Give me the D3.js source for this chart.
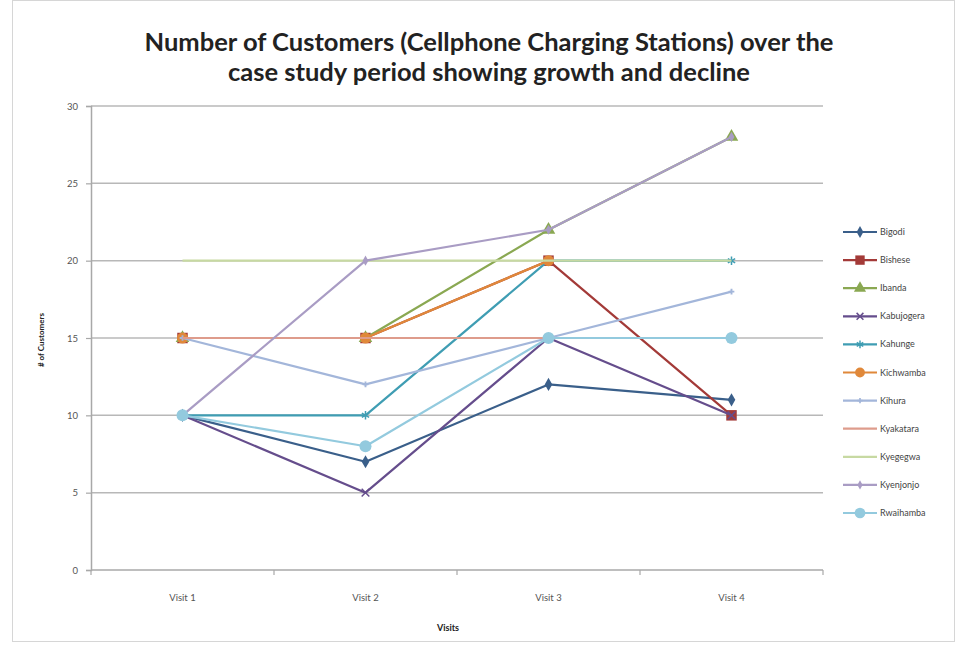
<!DOCTYPE html>
<html>
<head>
<meta charset="utf-8">
<script src="https://cdn.jsdelivr.net/npm/d3@7"></script>
<style>
  html, body { margin: 0; padding: 0; background: #fff; }
  svg { display: block; font-family: Lato, "Open Sans", sans-serif; }
</style>
</head>
<body>
<svg id="chart" width="956" height="649"></svg>
<script>
// Visits along the x axis
const visits = ["Visit 1", "Visit 2", "Visit 3", "Visit 4"];

// Customer counts per charging station, one value per visit (null = no reading)
const bigodi     = [10, 7, 12, 11];
const bishese    = [15, 15, 20, 10];
const ibanda     = [15, 15, 22, 28];
const kabujogera = [10, 5, 15, 10];
const kahunge    = [10, 10, 20, 20];
const kichwamba  = [15, 15, 20, null];
const kihura     = [15, 12, 15, 18];
const kyakatara  = [15, 15, 15, 15];
const kyegegwa   = [20, 20, 20, 20];
const kyenjonjo  = [10, 20, 22, 28];
const rwaihamba  = [10, 8, 15, 15];

const stationNames = ["Bigodi", "Bishese", "Ibanda", "Kabujogera", "Kahunge", "Kichwamba",
                      "Kihura", "Kyakatara", "Kyegegwa", "Kyenjonjo", "Rwaihamba"];
const stationValues = [bigodi, bishese, ibanda, kabujogera, kahunge, kichwamba,
                       kihura, kyakatara, kyegegwa, kyenjonjo, rwaihamba];

const yTicks = [0, 5, 10, 15, 20, 25, 30];

// Line colour and marker style per station
const colors = ["#3a5f8a", "#a33a38", "#8aa852", "#654d8c", "#3f9db3", "#e0883a",
                "#a3b6da", "#de9c8c", "#c7d9a2", "#a99cc4", "#93cade"];
const markers = ["diamond", "square", "triangle", "cross", "star", "circle",
                 "plus", "none", "none", "diamondSmall", "bigCircle"];

const series = stationNames.map((name, i) => ({
  name, color: colors[i], marker: markers[i],
  values: stationValues[i].map((v, j) => ({ visit: visits[j], value: v }))
}));

const svg = d3.select("#chart");

// Outer frame
svg.append("rect")
  .attr("x", 12.5).attr("y", 0.5).attr("width", 942).attr("height", 641)
  .attr("fill", "none").attr("stroke", "#d6d6d6");

const plot = { left: 91, right: 823, top: 106, bottom: 570 };

const xBand = d3.scaleBand().domain(visits).range([plot.left, plot.right]);
const xPos = v => xBand(v) + xBand.bandwidth() / 2;
const y = d3.scaleLinear().domain([0, 30]).range([plot.bottom, plot.top]);

// Horizontal gridlines
svg.append("g").selectAll("line")
  .data(yTicks.filter(t => t > 0))
  .join("line")
  .attr("x1", plot.left).attr("x2", plot.right)
  .attr("y1", d => y(d)).attr("y2", d => y(d))
  .attr("stroke", "#b8b8b8").attr("stroke-width", 1.5);

// Y axis
const yAxis = svg.append("g")
  .attr("transform", `translate(${plot.left},0)`)
  .call(d3.axisLeft(y).tickValues(yTicks).tickSize(5).tickPadding(8));
yAxis.select(".domain").attr("stroke", "#a8a8a8").attr("stroke-width", 1.5);
yAxis.selectAll(".tick line").attr("stroke", "#a8a8a8").attr("stroke-width", 1.2);
yAxis.selectAll(".tick text").attr("font-size", 9.5).attr("fill", "#555")
  .attr("font-family", "Lato, sans-serif");

// X axis: ticks sit on the category boundaries
const xAxisG = svg.append("g").attr("transform", `translate(0,${plot.bottom})`);
xAxisG.append("line")
  .attr("x1", plot.left).attr("x2", plot.right)
  .attr("stroke", "#a8a8a8").attr("stroke-width", 1.5);
const boundaries = visits.map(v => xBand(v)).concat([plot.right]);
xAxisG.selectAll("line.tick").data(boundaries).join("line")
  .attr("class", "tick")
  .attr("x1", d => d).attr("x2", d => d).attr("y1", 0).attr("y2", 5)
  .attr("stroke", "#a8a8a8").attr("stroke-width", 1.2);
xAxisG.selectAll("text").data(visits).join("text")
  .attr("x", d => xPos(d)).attr("y", 31)
  .attr("text-anchor", "middle").attr("font-size", 9.5).attr("fill", "#555")
  .text(d => d);

// Axis titles
svg.append("text")
  .attr("x", plot.left + (plot.right - plot.left) / 2 - 9).attr("y", 631)
  .attr("text-anchor", "middle").attr("font-size", 9).attr("font-weight", "bold")
  .attr("fill", "#222").text("Visits");
svg.append("text")
  .attr("transform", `translate(44,${(plot.top + plot.bottom) / 2 + 2}) rotate(-90)`)
  .attr("text-anchor", "middle").attr("font-size", 8).attr("font-weight", "bold")
  .attr("fill", "#222").text("# of Customers");

// Title
const title = svg.append("text")
  .attr("text-anchor", "middle").attr("font-size", 25.5).attr("font-weight", "bold")
  .attr("fill", "#222");
title.append("tspan").attr("x", 489).attr("y", 51)
  .text("Number of Customers (Cellphone Charging Stations) over the");
title.append("tspan").attr("x", 489).attr("y", 81)
  .text("case study period showing growth and decline");

// Marker drawing
function drawMarker(g, type, color, cx, cy, scale = 1) {
  const s = scale;
  switch (type) {
    case "diamond":
      g.append("path").attr("d", d3.symbol(d3.symbolDiamond, 50 * s)())
        .attr("transform", `translate(${cx},${cy})`).attr("fill", color);
      break;
    case "diamondSmall":
      g.append("path").attr("d", d3.symbol(d3.symbolDiamond, 30 * s)())
        .attr("transform", `translate(${cx},${cy})`).attr("fill", color);
      break;
    case "square":
      g.append("path").attr("d", d3.symbol(d3.symbolSquare, 110 * s)())
        .attr("transform", `translate(${cx},${cy})`).attr("fill", color);
      break;
    case "triangle":
      g.append("path").attr("d", d3.symbol(d3.symbolTriangle, 80 * s)())
        .attr("transform", `translate(${cx},${cy})`).attr("fill", color);
      break;
    case "cross":
      g.append("path").attr("d", d3.symbol(d3.symbolX, 40 * s)())
        .attr("transform", `translate(${cx},${cy})`).attr("fill", "none")
        .attr("stroke", color).attr("stroke-width", 1.5);
      break;
    case "star":
      g.append("path").attr("d", d3.symbol(d3.symbolAsterisk, 50 * s)())
        .attr("transform", `translate(${cx},${cy})`).attr("fill", "none")
        .attr("stroke", color).attr("stroke-width", 1.5);
      break;
    case "circle":
      g.append("circle").attr("cx", cx).attr("cy", cy).attr("r", 5.5 * Math.sqrt(s))
        .attr("fill", color);
      break;
    case "plus":
      g.append("path").attr("d", d3.symbol(d3.symbolCross, 18 * s)())
        .attr("transform", `translate(${cx},${cy})`).attr("fill", color);
      break;
    case "bigCircle":
      g.append("circle").attr("cx", cx).attr("cy", cy).attr("r", 6 * Math.sqrt(s))
        .attr("fill", color);
      break;
    default:
      break;
  }
}

// Series lines and markers (gaps where a visit has no reading)
const line = d3.line()
  .defined(d => d.value != null)
  .x(d => xPos(d.visit)).y(d => y(d.value));
const seriesG = svg.append("g");
series.forEach(s => {
  const g = seriesG.append("g");
  g.append("path").datum(s.values)
    .attr("d", line).attr("fill", "none")
    .attr("stroke", s.color).attr("stroke-width", 2.2)
    .attr("stroke-linejoin", "round");
  s.values.filter(d => d.value != null)
    .forEach(d => drawMarker(g, s.marker, s.color, xPos(d.visit), y(d.value)));
});

// Legend
const legend = svg.append("g").attr("transform", "translate(843,232)");
series.forEach((s, i) => {
  const row = legend.append("g").attr("transform", `translate(0,${i * 28.1})`);
  row.append("line").attr("x1", 0).attr("x2", 34).attr("y1", 0).attr("y2", 0)
    .attr("stroke", s.color).attr("stroke-width", 2.2);
  drawMarker(row, s.marker, s.color, 17, 0, 0.8);
  row.append("text").attr("x", 37).attr("y", 3).attr("font-size", 9)
    .attr("fill", "#444").text(s.name);
});
</script>
</body>
</html>
